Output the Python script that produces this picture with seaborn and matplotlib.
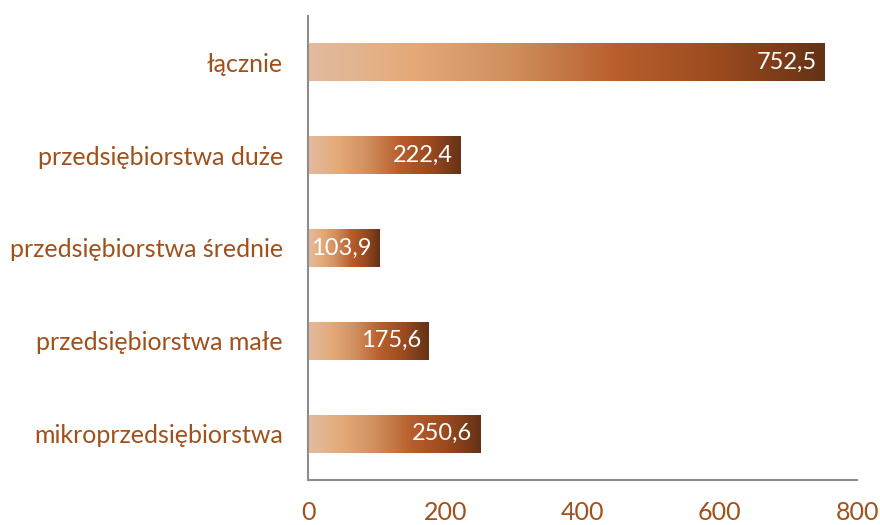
import numpy as np
import pandas as pd
import matplotlib
matplotlib.use("Agg")
import matplotlib.pyplot as plt
from matplotlib.colors import LinearSegmentedColormap
from matplotlib.ticker import FixedLocator
import seaborn as sns

categories = [
    "łącznie",
    "przedsiębiorstwa duże",
    "przedsiębiorstwa średnie",
    "przedsiębiorstwa małe",
    "mikroprzedsiębiorstwa",
]
values = [752.5, 222.4, 103.9, 175.6, 250.6]
value_labels = ["752,5", "222,4", "103,9", "175,6", "250,6"]
x_ticks = [0, 200, 400, 600, 800]

TEXT_COLOR = "#a0501a"
AXIS_COLOR = "#8c8c8c"

sns.set_style("white")
plt.rcParams["font.family"] = ["Lato", "DejaVu Sans"]

df = pd.DataFrame({"category": categories, "value": values})

fig = plt.figure(figsize=(8.8, 5.25), dpi=100)
ax = fig.add_axes([0.35, 0.0857, 0.624, 0.884])

sns.barplot(data=df, x="value", y="category", order=categories,
            width=0.41, ax=ax, color="#c87a45")

# gradient fill: pale peach on the left, dark brown on the right
grad = LinearSegmentedColormap.from_list(
    "bar", ["#e2bba0", "#e4aa78", "#cf8d5c", "#b85e2c", "#9a4a1f", "#653215"])
gradient = np.linspace(0, 1, 256).reshape(1, -1)

for patch, lab in zip(ax.patches, value_labels):
    x0, y0 = patch.get_x(), patch.get_y()
    w, h = patch.get_width(), patch.get_height()
    patch.set_facecolor("none")
    patch.set_edgecolor("none")
    im = ax.imshow(gradient, cmap=grad, aspect="auto",
                   extent=[x0, x0 + w, y0 + h, y0], zorder=2)
    im.set_clip_path(patch)
    ax.text(x0 + w - 11, y0 + h / 2, lab, color="white", fontsize=17,
            ha="right", va="center", zorder=3)

ax.set_xlim(0, 800)
ax.set_ylim(4.5, -0.5)
ax.set_xticks(x_ticks)
ax.set_xticklabels([str(t) for t in x_ticks])
ax.set_xlabel("")
ax.set_ylabel("")

ax.yaxis.set_minor_locator(FixedLocator(np.arange(-0.5, 5, 1)))
ax.tick_params(axis="y", which="major", length=0, pad=18,
               labelsize=18, labelcolor=TEXT_COLOR)
ax.tick_params(axis="y", which="minor", length=6, width=1.5,
               color=AXIS_COLOR, direction="out")
ax.tick_params(axis="x", length=5, width=1.5, color=AXIS_COLOR,
               direction="out", pad=10, labelsize=18, labelcolor=TEXT_COLOR)

for side in ["top", "right"]:
    ax.spines[side].set_visible(False)
for side in ["left", "bottom"]:
    ax.spines[side].set_color(AXIS_COLOR)
    ax.spines[side].set_linewidth(1.5)

fig.savefig("out.png", dpi=100)
